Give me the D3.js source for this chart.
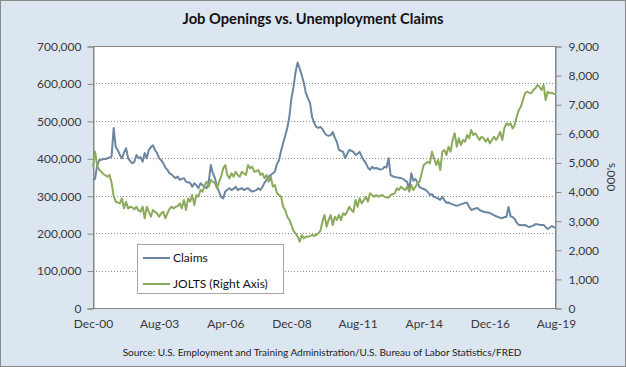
<!DOCTYPE html>
<html><head><meta charset="utf-8">
<script src="https://cdn.jsdelivr.net/npm/d3@7"></script>
<style>
body{margin:0;background:#fff}
svg{display:block}
text{font-family:Lato,"Open Sans",sans-serif}
</style>
</head><body>
<svg id="chart" width="626" height="367"></svg>
<script>
// ---- DATA (monthly, Dec 2000 .. Aug 2019) ----
const firstMonth = "Dec-00";
// Initial unemployment claims
const claims = [
 342000,
 345000,380000,395000,396000,398000,398000,400000,402000,405000,481000,430000,422000,
 409000,400000,415000,427000,400000,392000,387000,390000,409000,400000,403000,391000,
 414000,400000,422000,430000,435000,422000,414000,400000,395000,387000,375000,369000,
 360000,357000,351000,347000,351000,342000,345000,347000,337000,336000,334000,324000,
 333000,328000,320000,333000,328000,324000,320000,337000,382000,360000,347000,324000,
 310000,297000,293000,311000,316000,320000,315000,318000,324000,315000,318000,320000,
 315000,318000,320000,315000,311000,313000,315000,320000,315000,324000,335000,342000,
 351000,355000,360000,364000,385000,395000,420000,441000,460000,481000,511000,560000,
 590000,630000,656000,640000,622000,601000,574000,560000,548000,510000,495000,484000,
 481000,484000,478000,468000,462000,460000,462000,470000,455000,443000,422000,420000,
 417000,400000,412000,422000,420000,417000,409000,412000,417000,405000,395000,387000,
 375000,369000,377000,373000,374000,372000,370000,371000,377000,375000,400000,355000,
 352000,350000,349000,348000,347000,345000,340000,337000,315000,360000,340000,345000,
 335000,323000,320000,318000,315000,310000,302000,304000,297000,295000,292000,289000,
 297000,288000,281000,282000,279000,277000,275000,273000,275000,277000,279000,281000,
 281000,270000,262000,264000,266000,267000,262000,259000,257000,256000,255000,254000,
 251000,248000,245000,243000,241000,240000,243000,243000,270000,245000,243000,238000,
 228000,222000,222000,221000,222000,219000,216000,218000,220000,224000,224000,222000,
 222000,222000,216000,211000,215000,219000,216000,214000
];
// JOLTS job openings (thousands)
const jolts = [
 4850,
 5370,4900,4750,4680,4600,4560,4510,4570,4300,3850,3650,3620,
 3600,3766,3423,3652,3423,3480,3450,3389,3480,3350,3308,3480,
 3080,3480,3300,3137,3366,3300,3251,3137,3250,3308,3080,3251,
 3400,3480,3423,3480,3500,3595,3423,3709,3366,3766,3652,3881,
 3537,3881,3823,4053,3995,4225,4339,4168,4397,4339,4283,4111,
 4339,4511,4798,4912,4569,4454,4626,4511,4683,4569,4511,4683,
 4620,4569,4912,4798,4855,4683,4700,4740,4569,4626,4454,4569,
 4339,4511,4168,4225,3939,3880,3824,3480,3366,3137,3023,2850,
 2650,2565,2450,2278,2508,2393,2450,2450,2470,2508,2480,2508,
 2565,2650,2966,3195,2794,3023,3195,2851,3137,3023,3195,3023,
 3252,3200,3309,3480,3366,3300,3710,3480,3767,3595,3700,3824,
 3652,3939,3880,3824,3881,3824,3860,3881,3824,3800,3790,3881,
 3910,3939,4111,4050,4168,4100,4053,4168,3996,4225,4053,4168,
 4283,4339,4626,4912,4970,5026,4970,5369,5142,4912,5084,4740,
 5370,5427,5256,5542,5370,5771,6000,5542,5828,5599,5771,5714,
 5943,5828,6114,5943,6000,5885,5771,5885,5828,5714,5828,5656,
 5771,5885,5771,5885,6057,5771,6171,6343,6286,6343,6171,6286,
 6573,6801,6916,7145,7374,7431,7400,7374,7488,7545,7660,7603,
 7488,7660,7145,7431,7374,7397,7351,7351
];
const seriesNames = ["Claims", "JOLTS (Right Axis)"];
const leftTicks = [0,100000,200000,300000,400000,500000,600000,700000];
const rightTicks = [0,1000,2000,3000,4000,5000,6000,7000,8000,9000];
const xTickLabels = ["Dec-00","Aug-03","Apr-06","Dec-08","Aug-11","Apr-14","Dec-16","Aug-19"];
const xTickMonthIndex = [0,32,64,96,128,160,192,224];
const titleText = "Job Openings vs. Unemployment Claims";
const rightAxisTitle = "000's";
const sourceText = "Source: U.S. Employment and Training Administration/U.S. Bureau of Labor Statistics/FRED";

// ---- LAYOUT ----
const W = 626, H = 367;
const plot = {left: 93, right: 556, top: 46, bottom: 308};
const colClaims = "#6C86A2", colJolts = "#8BAA5C";
const axisCol = "#878787", textCol = "#3a3a3a";

const svg = d3.select("#chart");
svg.append("rect").attr("x",0.5).attr("y",0.5).attr("width",W-1).attr("height",H-1)
  .attr("fill","#DCE6F1").attr("stroke","#8A8A8A").attr("stroke-width",1);

const x = d3.scaleLinear().domain([0, claims.length-1]).range([plot.left, plot.right]);
const yL = d3.scaleLinear().domain([0,700000]).range([plot.bottom, plot.top]);
const yR = d3.scaleLinear().domain([0,9000]).range([plot.bottom, plot.top]);

// plot area
svg.append("rect").attr("x",plot.left).attr("y",plot.top)
  .attr("width",plot.right-plot.left).attr("height",plot.bottom-plot.top)
  .attr("fill","#fff");

// gridlines
svg.append("g").selectAll("line").data(leftTicks.filter(d=>d>0 && d<700000)).join("line")
  .attr("x1",plot.left).attr("x2",plot.right)
  .attr("y1",d=>Math.round(yL(d))+0.5).attr("y2",d=>Math.round(yL(d))+0.5)
  .attr("stroke","#8c8c8c").attr("stroke-width",1).attr("stroke-dasharray","1,2");

// plot border
svg.append("rect").attr("x",plot.left+0.5).attr("y",plot.top+0.5)
  .attr("width",plot.right-plot.left-1).attr("height",plot.bottom-plot.top)
  .attr("fill","none").attr("stroke",axisCol).attr("stroke-width",1);

// left axis
const fmt = d3.format(",");
const gL = svg.append("g").attr("transform",`translate(${plot.left+0.5},0.5)`)
  .call(d3.axisLeft(yL).tickValues(leftTicks).tickFormat(fmt).tickSize(6).tickPadding(6));
const gR = svg.append("g").attr("transform",`translate(${plot.right-0.5},0.5)`)
  .call(d3.axisRight(yR).tickValues(rightTicks).tickFormat(fmt).tickSize(6).tickPadding(7));
[gL,gR].forEach(g=>{
  g.select(".domain").attr("stroke",axisCol);
  g.selectAll(".tick line").attr("stroke",axisCol);
  g.selectAll(".tick text").attr("fill",textCol).style("font-size","12px")
   .style("font-family","Lato,'Open Sans',sans-serif");
});

// bottom axis labels
const gX = svg.append("g").attr("transform",`translate(0,${plot.bottom})`)
  .call(d3.axisBottom(x).tickValues(xTickMonthIndex).tickFormat((d,i)=>xTickLabels[i]).tickSize(0).tickPadding(11));
gX.select(".domain").remove();
gX.selectAll(".tick text").attr("fill",textCol).style("font-size","12px")
  .style("font-family","Lato,'Open Sans',sans-serif");

// lines
const lineL = d3.line().x((d,i)=>x(i)).y(d=>yL(d)).curve(d3.curveLinear);
const lineR = d3.line().x((d,i)=>x(i)).y(d=>yR(d)).curve(d3.curveLinear);
svg.append("path").datum(claims).attr("d",lineL).attr("fill","none")
  .attr("stroke",colClaims).attr("stroke-width",2).attr("stroke-linejoin","round");
svg.append("path").datum(jolts).attr("d",lineR).attr("fill","none")
  .attr("stroke",colJolts).attr("stroke-width",2).attr("stroke-linejoin","round");

// title
svg.append("text").attr("x",313).attr("y",24).attr("text-anchor","middle")
  .style("font-size","14.7px").style("font-weight","bold").attr("fill","#111").text(titleText);

// right axis title
svg.append("text").attr("transform","translate(615,177) rotate(-90)").attr("text-anchor","middle")
  .style("font-size","12px").attr("fill",textCol).text(rightAxisTitle);

// source
svg.append("text").attr("x",322).attr("y",356).attr("text-anchor","middle")
  .style("font-size","10px").attr("fill","#222").text(sourceText);

// legend
const lg = svg.append("g").attr("transform","translate(137,244)");
lg.append("rect").attr("x",0.5).attr("y",0.5).attr("width",146).attr("height",49)
  .attr("fill","#fff").attr("stroke","#a6a6a6");
const entries = [{name:seriesNames[0], c:colClaims},{name:seriesNames[1], c:colJolts}];
entries.forEach((e,k)=>{
  const yy = 14 + k*26;
  lg.append("line").attr("x1",6).attr("x2",33).attr("y1",yy).attr("y2",yy)
    .attr("stroke",e.c).attr("stroke-width",2);
  lg.append("text").attr("x",36).attr("y",yy+4).style("font-size","12px")
    .attr("fill","#111").text(e.name);
});
</script>
</body></html>
